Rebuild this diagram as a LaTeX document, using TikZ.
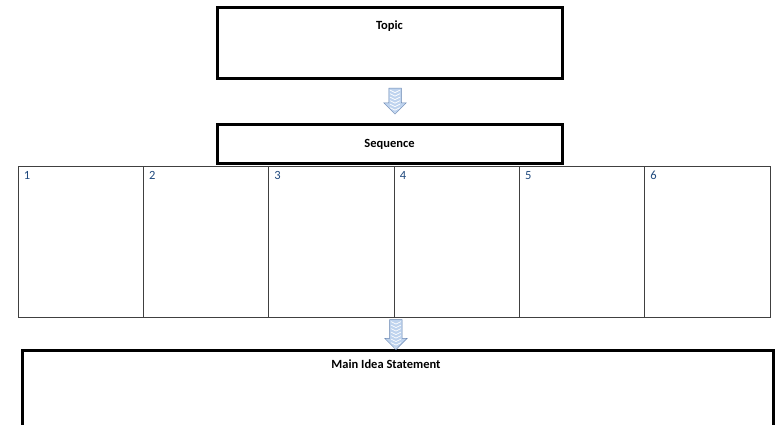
\documentclass[tikz,border=0pt]{standalone}
\usepackage{fontspec}
\setmainfont{Carlito}
\usetikzlibrary{shapes.arrows,calc}
\definecolor{numblue}{RGB}{31,73,125}
\definecolor{arrowfill}{RGB}{190,211,238}
\definecolor{arrowline}{RGB}{105,135,178}
\tikzset{
  thickbox/.style={draw, line width=3pt, inner sep=0pt},
  cellbox/.style={draw=black!75, line width=0.8pt, inner sep=0pt,
    minimum width=125.33pt, minimum height=151pt},
  boxtitle/.style={anchor=base, inner sep=0pt,
    font=\fontsize{12.5}{14}\selectfont\bfseries},
  numlabel/.style={anchor=base west, inner sep=0pt, text=numblue,
    font=\fontsize{12.5}{14}\selectfont, xshift=6pt, yshift=-14pt},
  blockarrow/.style={single arrow, shape border rotate=270,
    draw=arrowline, fill=arrowfill, line width=0.5pt,
    inner xsep=6pt, inner ysep=6pt, text width=0pt,
    minimum width=22pt, minimum height=#1,
    single arrow head extend=5pt, single arrow head indent=0pt,
    path picture={
      \foreach \k in {0,...,7} {
        \draw[white, line width=0.7pt]
          ($(path picture bounding box.north)+(-5pt,-2pt-\k*3.5pt)$)
          -- ++(5pt,-2.5pt) -- ++(5pt,2.5pt);
      }
    }}
}

\begin{document}
\begin{tikzpicture}[x=1pt,y=1pt]
\useasboundingbox (0,0) rectangle (779,425);
% boxes
\node[thickbox, minimum width=345pt, minimum height=71pt,
  label={[boxtitle, yshift=-23pt]north:Topic}] (topic) at (389.5,381.5) {};
\node[thickbox, minimum width=345pt, minimum height=39pt,
  font=\fontsize{12.5}{14}\selectfont\bfseries] (seq) at (389.5,280.5) {Sequence};
% sequence cells
\foreach \i in {1,...,6} {
  \node[cellbox, label={[numlabel]north west:\i}] (cell\i)
    at ({18+125.33*(\i-0.5)},183.5) {};
}
\node[thickbox, minimum width=751pt, minimum height=84pt,
  label={[boxtitle, xshift=-11.5pt, yshift=-19pt]north:Main Idea Statement}]
  (mainidea) at (397.5,32) {};
% arrows
\node[blockarrow=26pt] (arr1) at ($(topic.south)!0.5!(seq.north)+(5.5pt,4pt)$) {};
\node[blockarrow=30pt] (arr2) at ($(cell3.south east)!0.5!(mainidea.north)+(0,2pt)$) {};
\end{tikzpicture}
\end{document}
